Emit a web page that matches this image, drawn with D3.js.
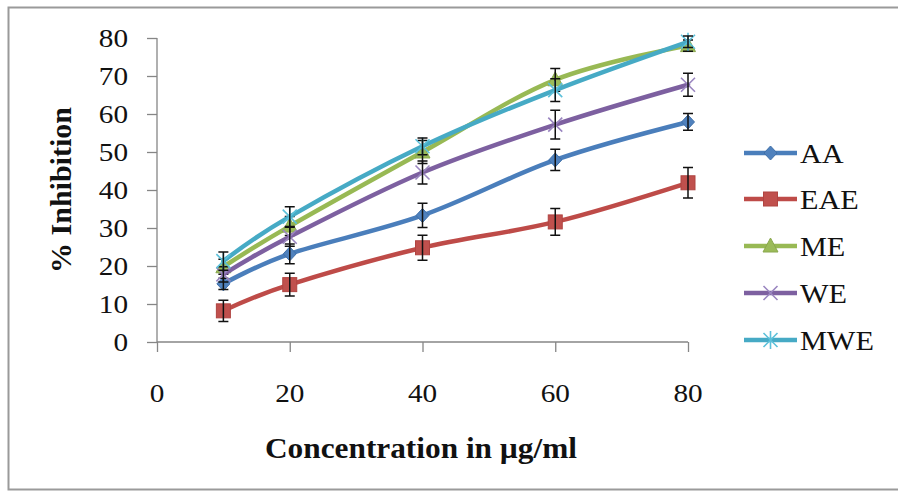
<!DOCTYPE html>
<html>
<head>
<script src="https://cdn.jsdelivr.net/npm/d3@7"></script>
</head>
<body style="margin:0">
<svg id="chart" width="898" height="495"></svg>
<script>
// Concentrations (µg/ml) and % inhibition per extract
const concentrations = [10, 20, 40, 60, 80];
const xTicks = [0, 20, 40, 60, 80];
const yTicks = [0, 10, 20, 30, 40, 50, 60, 70, 80];
const seriesNames = ["AA", "EAE", "ME", "WE", "MWE"];

const valuesAA  = [15.3, 23.2, 33.3, 47.9, 57.9];
const valuesEAE = [8.2, 15.1, 24.8, 31.6, 41.9];
const valuesME  = [19.8, 30.5, 50.0, 69.0, 78.0];
const valuesWE  = [17.8, 27.7, 44.6, 57.2, 67.7];
const valuesMWE = [21.3, 33.0, 51.5, 66.3, 79.0];

// Standard deviations for error bars
const errAA  = [1.5, 2.6, 3.2, 2.8, 2.2];
const errEAE = [2.8, 3.0, 3.3, 3.5, 4.0];
const errME  = [2.0, 2.5, 3.0, 3.0, 1.5];
const errWE  = [2.0, 2.5, 3.0, 3.8, 3.0];
const errMWE = [2.4, 2.6, 2.2, 3.0, 1.5];

const series = [
  { name: "AA",  values: valuesAA,  err: errAA,  line: "#4A7EBB", fill: "#4F81BD", marker: "diamond" },
  { name: "EAE", values: valuesEAE, err: errEAE, line: "#BE4B48", fill: "#C0504D", marker: "square" },
  { name: "ME",  values: valuesME,  err: errME,  line: "#98B954", fill: "#9BBB59", marker: "triangle" },
  { name: "WE",  values: valuesWE,  err: errWE,  line: "#7D60A0", fill: "#8064A2", marker: "x" },
  { name: "MWE", values: valuesMWE, err: errMWE, line: "#46AAC5", fill: "#4BACC6", marker: "star" }
];

const FONT = "Liberation Serif";
const svg = d3.select("#chart");

// Outer chart border
svg.append("rect")
  .attr("x", 8.5).attr("y", 7.5).attr("width", 900).attr("height", 482)
  .attr("fill", "none").attr("stroke", "#9a9a9a").attr("stroke-width", 2);

const x = d3.scaleLinear().domain([0, 80]).range([157, 688]);
const y = d3.scaleLinear().domain([0, 80]).range([342, 38]);

// Axes (tick marks only; labels are drawn separately below)
const axisColor = "#868686";
const yAxis = svg.append("g")
  .attr("transform", `translate(${x(0)},0)`)
  .call(d3.axisLeft(y).tickValues(yTicks).tickSize(10).tickFormat(""));
const xAxis = svg.append("g")
  .attr("transform", `translate(0,${y(0)})`)
  .call(d3.axisBottom(x).tickValues(xTicks).tickSize(10).tickFormat(""));
[xAxis, yAxis].forEach(g => {
  g.attr("font-family", null).attr("font-size", null);
  g.select(".domain").attr("stroke", axisColor).attr("stroke-width", 1.3)
    .attr("d", g === xAxis ? `M${x(0)},0H${x(80)}` : `M0,${y(0)}V${y(80)}`);
  g.selectAll(".tick line").attr("stroke", axisColor).attr("stroke-width", 1.3);
  g.selectAll(".tick text").remove();
});

// Text helper: slightly widened serif
function stretchedText(parent, tx, ty, str, size, sx, anchor, weight) {
  const e = parent.append("text")
    .attr("transform", `translate(${tx},${ty}) scale(${sx},1)`)
    .attr("text-anchor", anchor)
    .attr("font-family", FONT)
    .attr("font-size", size)
    .attr("fill", "#111");
  if (weight) e.attr("font-weight", weight);
  e.text(str);
  return e;
}
yTicks.forEach(v => stretchedText(svg, 128, y(v) + 8.5, String(v), 25, 1.17, "end"));
xTicks.forEach(v => stretchedText(svg, x(v), 402, String(v), 25, 1.17, "middle"));

// Axis titles
stretchedText(svg, 421, 458, "Concentration in µg/ml", 29, 1.08, "middle", "bold");
svg.append("text")
  .attr("transform", `translate(71,190) rotate(-90)`)
  .attr("text-anchor", "middle")
  .attr("font-family", FONT)
  .attr("font-size", 30)
  .attr("font-weight", "bold")
  .attr("fill", "#111")
  .text("% Inhibition");

// Marker drawing
function drawMarker(g, type, cx, cy, s) {
  if (type === "diamond") {
    g.append("path").attr("d", `M${cx},${cy - 7}L${cx + 6.5},${cy}L${cx},${cy + 7}L${cx - 6.5},${cy}Z`)
      .attr("fill", s.fill).attr("stroke", "#3F6FA8").attr("stroke-width", 1);
  } else if (type === "square") {
    g.append("rect").attr("x", cx - 7).attr("y", cy - 7).attr("width", 14).attr("height", 14)
      .attr("fill", s.fill).attr("stroke", "#B04441").attr("stroke-width", 1);
  } else if (type === "triangle") {
    g.append("path").attr("d", `M${cx},${cy - 8}L${cx + 7.5},${cy + 6}L${cx - 7.5},${cy + 6}Z`)
      .attr("fill", s.fill).attr("stroke", "#8AA84E").attr("stroke-width", 1);
  } else if (type === "x") {
    g.append("path").attr("d", `M${cx - 7},${cy - 7}L${cx + 7},${cy + 7}M${cx + 7},${cy - 7}L${cx - 7},${cy + 7}`)
      .attr("stroke", "#9A86C0").attr("stroke-width", 1.6);
  } else if (type === "star") {
    g.append("path").attr("d", `M${cx - 7},${cy - 7}L${cx + 7},${cy + 7}M${cx + 7},${cy - 7}L${cx - 7},${cy + 7}M${cx},${cy - 9}L${cx},${cy + 9}`)
      .attr("stroke", "#5CC0DA").attr("stroke-width", 1.6);
  }
}

const line = d3.line()
  .x((d, i) => x(concentrations[i]))
  .y(d => y(d))
  .curve(d3.curveCardinal.tension(0));

const plot = svg.append("g");
series.forEach(s => {
  const g = plot.append("g").attr("class", "series-" + s.name);
  g.append("path")
    .datum(s.values)
    .attr("d", line)
    .attr("fill", "none")
    .attr("stroke", s.line)
    .attr("stroke-width", 4.5)
    .attr("stroke-linejoin", "round")
    .attr("stroke-linecap", "round");
  s.values.forEach((v, i) => drawMarker(g, s.marker, x(concentrations[i]), y(v), s));
  // error bars
  s.values.forEach((v, i) => {
    const cx = x(concentrations[i]);
    const y1 = y(v + s.err[i]), y2 = y(v - s.err[i]);
    g.append("path")
      .attr("d", `M${cx},${y1}V${y2}M${cx - 5},${y1}H${cx + 5}M${cx - 5},${y2}H${cx + 5}`)
      .attr("stroke", "#111").attr("stroke-width", 1.5).attr("fill", "none");
  });
});

// Legend
const legend = svg.append("g");
const legendRows = [153, 199, 246, 293, 340];
series.forEach((s, i) => {
  const ly = legendRows[i];
  legend.append("line")
    .attr("x1", 744).attr("x2", 797).attr("y1", ly).attr("y2", ly)
    .attr("stroke", s.line).attr("stroke-width", 4.5);
  drawMarker(legend, s.marker, 770.5, ly, s);
  stretchedText(legend, 800, ly + 10, seriesNames[i], 28, 1.08, "start");
});
</script>
</body>
</html>
